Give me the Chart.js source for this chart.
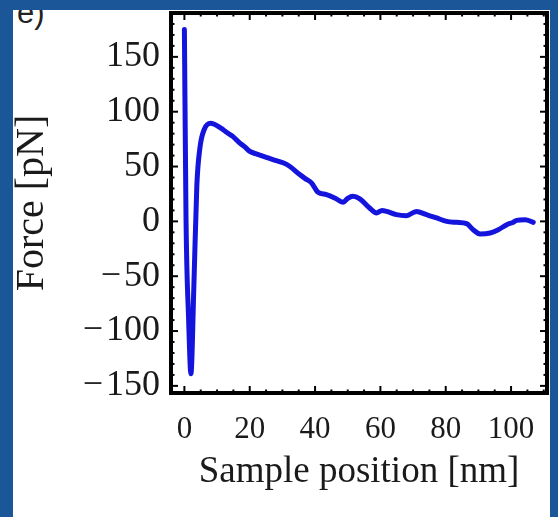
<!DOCTYPE html>
<html>
<head>
<meta charset="utf-8">
<script src="https://cdn.jsdelivr.net/npm/chart.js@4"></script>
<style>
  html, body { margin:0; padding:0; background:#1b5798; width:558px; height:517px; overflow:hidden; }
  #panel { position:absolute; left:13px; top:10px; width:537px; height:507px; background:#fff; overflow:hidden; }
  #tag { position:absolute; left:4px; top:-13px; font:31px "Liberation Sans", sans-serif; line-height:31px; color:#222; }
  #c { position:absolute; left:0; top:0; }
</style>
</head>
<body>
<div id="panel"><div id="tag">e)</div></div>
<canvas id="c" width="558" height="517"></canvas>
<script>
// Sample position [nm]
const positions = [0, 0.5, 1.3, 2.0, 2.9, 3.8, 4.8, 6.1, 8.0, 11.2, 13.0, 14.8, 16.9, 18.5, 19.9, 22.0, 24.0, 27.1, 30.2, 32.2, 35.3, 37.0, 38.9, 40.9, 43.5, 46.0, 48.6, 50.0, 51.6, 53.7, 56.7, 58.8, 60.5, 61.9, 64.9, 68.0, 71.0, 74.1, 77.2, 80.3, 83.3, 86.4, 88.4, 90.5, 93.6, 96.1, 98.7, 100.5, 101.7, 104.3, 106.8];
// Force [pN]
const forces = [175, 2, -90, -139, -59, 32, 68, 84, 89.5, 85, 81, 77.5, 71.5, 68, 64, 61.5, 59.4, 56.4, 53.4, 50.3, 42.7, 39, 35.1, 26.5, 24.4, 21.4, 17.4, 21, 22.9, 20.5, 12.2, 7.7, 10, 9.1, 6.1, 5.2, 9.1, 6.1, 3.1, 0, -0.9, -2.1, -7.6, -11.5, -10.6, -7.6, -3, -1, 0.9, 1.5, -0.9];
const xTicks = [0, 20, 40, 60, 80, 100];
const yTicks = [-150, -100, -50, 0, 50, 100, 150];

const frame = {
  id: 'frame',
  afterDraw(chart) {
    const {ctx, chartArea: a, scales: {x, y}} = chart;
    ctx.save();
    ctx.strokeStyle = '#000';
    const seg = (x1, y1, x2, y2) => { ctx.beginPath(); ctx.moveTo(x1, y1); ctx.lineTo(x2, y2); ctx.stroke(); };
    ctx.lineWidth = 2;
    for (let v = -10; v <= 120; v += 5) {
      const px = x.getPixelForValue(v);
      if (px < a.left + 2 || px > a.right - 2) continue;
      const len = xTicks.includes(v) ? 7 : 3.5;
      seg(px, a.bottom, px, a.bottom - len);
      seg(px, a.top, px, a.top + len);
    }
    for (let v = -200; v <= 200; v += 10) {
      const py = y.getPixelForValue(v);
      if (py < a.top + 2 || py > a.bottom - 2) continue;
      const len = yTicks.includes(v) ? 7 : 3.5;
      seg(a.left, py, a.left + len, py);
      seg(a.right, py, a.right - len, py);
    }
    ctx.lineWidth = 4;
    ctx.strokeRect(a.left, a.top, a.right - a.left, a.bottom - a.top);
    ctx.restore();
  }
};

new Chart(document.getElementById('c'), {
  type: 'line',
  data: {
    datasets: [{
      data: positions.map((p, i) => ({x: p, y: forces[i]})),
      borderColor: '#1414dc',
      borderWidth: 5,
      pointRadius: 0,
      cubicInterpolationMode: 'monotone',
      borderCapStyle: 'round',
      borderJoinStyle: 'round',
      fill: false
    }]
  },
  options: {
    responsive: false,
    animation: false,
    layout: { padding: { left: 0, top: 13, right: 11, bottom: 0 } },
    plugins: { legend: { display: false }, tooltip: { enabled: false } },
    scales: {
      x: {
        type: 'linear',
        min: -4.1, max: 111,
        afterBuildTicks: s => { s.ticks = xTicks.map(v => ({value: v})); },
        afterFit: s => { s.height = 124; s.paddingLeft = 0; s.paddingRight = 0; },
        grid: { display: false, drawTicks: false },
        border: { display: false },
        ticks: { padding: 18, color: '#1a1a1a', font: { family: 'Liberation Serif', size: 31 }, maxRotation: 0, autoSkip: false },
        title: { display: true, text: 'Sample position [nm]', color: '#1a1a1a', font: { family: 'Liberation Serif', size: 37 }, padding: { top: 0, bottom: 23 } }
      },
      y: {
        type: 'linear',
        min: -156.5, max: 190,
        afterBuildTicks: s => { s.ticks = yTicks.map(v => ({value: v})); },
        afterFit: s => { s.width = 171; s.paddingTop = 0; s.paddingBottom = 0; },
        grid: { display: false, drawTicks: false },
        border: { display: false },
        ticks: { padding: 11, color: '#1a1a1a', font: { family: 'Liberation Serif', size: 36 },
          callback: v => v < 0 ? '\u2212\u200A' + Math.abs(v) : String(v) },
        title: { display: true, text: 'Force [pN]', color: '#1a1a1a', font: { family: 'Liberation Serif', size: 40 }, padding: { top: 8, bottom: 0 } }
      }
    }
  },
  plugins: [frame]
});
</script>
</body>
</html>
